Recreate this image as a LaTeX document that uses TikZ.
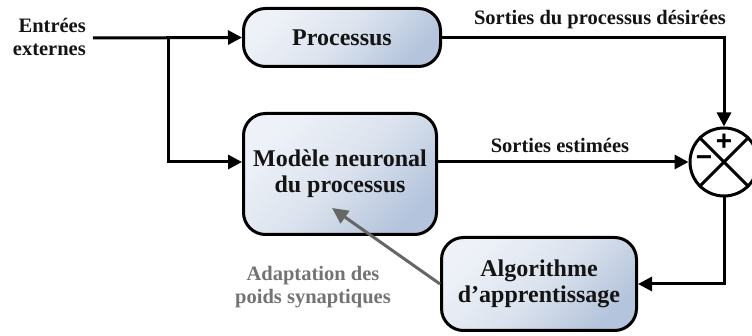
\documentclass[tikz,border=0pt]{standalone}
\usepackage{fontspec}
\setmainfont{Liberation Serif}
\newfontfamily\signfont{Liberation Sans}
\usetikzlibrary{arrows.meta}
\definecolor{boxlight}{HTML}{EEF2F8}
\definecolor{boxmid}{HTML}{DCE3EE}
\definecolor{boxdark}{HTML}{B4C4DC}
\definecolor{txtdark}{HTML}{141414}
\definecolor{arrowgray}{HTML}{666666}
\definecolor{textgray}{HTML}{737373}
\begin{document}
\begin{tikzpicture}[x=1pt,y=-1pt,
  box/.style={draw=black, line width=3pt, rounded corners=22pt,
    top color=boxlight, bottom color=boxdark, middle color=boxmid, shading angle=45,
    align=center, font=\fontsize{24}{26}\selectfont\bfseries,
    text=txtdark, inner sep=0pt},
  lbl/.style={font=\fontsize{20.5}{23.5}\selectfont\bfseries, text=txtdark, inner sep=0pt},
  conn/.style={line width=3pt, draw=black, -{Triangle[length=14pt,width=14pt]}},
  grayconn/.style={line width=3pt, draw=arrowgray, -{Triangle[length=16pt,width=15pt]}},
  sign/.style={font=\signfont\bfseries\fontsize{28}{28}\selectfont, text=black, inner sep=0pt}
]
\useasboundingbox (0,0) rectangle (752,336);

% boxes
\node[box, minimum width=197pt, minimum height=58pt] (proc) at (342,37.5) {Processus};
\node[box, minimum width=193pt, minimum height=121pt] (model) at (340,174) {Modèle neuronal\\du processus};
\node[box, minimum width=195pt, minimum height=93pt] (algo) at (539,284) {Algorithme\\d’apprentissage};

% summing junction
\node[circle, draw=black, line width=3pt, minimum size=68pt, inner sep=0pt, fill=white] (sum) at (724,162) {};
\draw[line width=3pt] (sum.45) -- (sum.225);
\draw[line width=3pt] (sum.135) -- (sum.-45);
\node[sign] (plus) at (724,142) {+};
\node[sign] (minus) at (704,161) {−};

% labels
\node[lbl, align=right, anchor=east] (ext) at (86,37) {Entrées\\externes};
\node[lbl] (ldes) at (600,20) {Sorties du processus désirées};
\node[lbl] (lest) at (560,145) {Sorties estimées};
\node[lbl, text=textgray, align=center] (ladapt) at (313,287) {Adaptation des\\poids synaptiques};

% coordinates
\coordinate (in) at (93,38);
\coordinate (br) at (168,38);
\coordinate (tip) at (332,208);

% connectors
\draw[conn] (in) -- (proc.west);
\draw[conn] (br) |- (model.west |- sum);
\draw[conn] (proc.east) -| (sum.north);
\draw[conn] (model.east |- sum) -- (sum.west);
\draw[conn] (sum.south) |- (algo.east);
\draw[grayconn] (algo.west) -- (tip);
\end{tikzpicture}
\end{document}
